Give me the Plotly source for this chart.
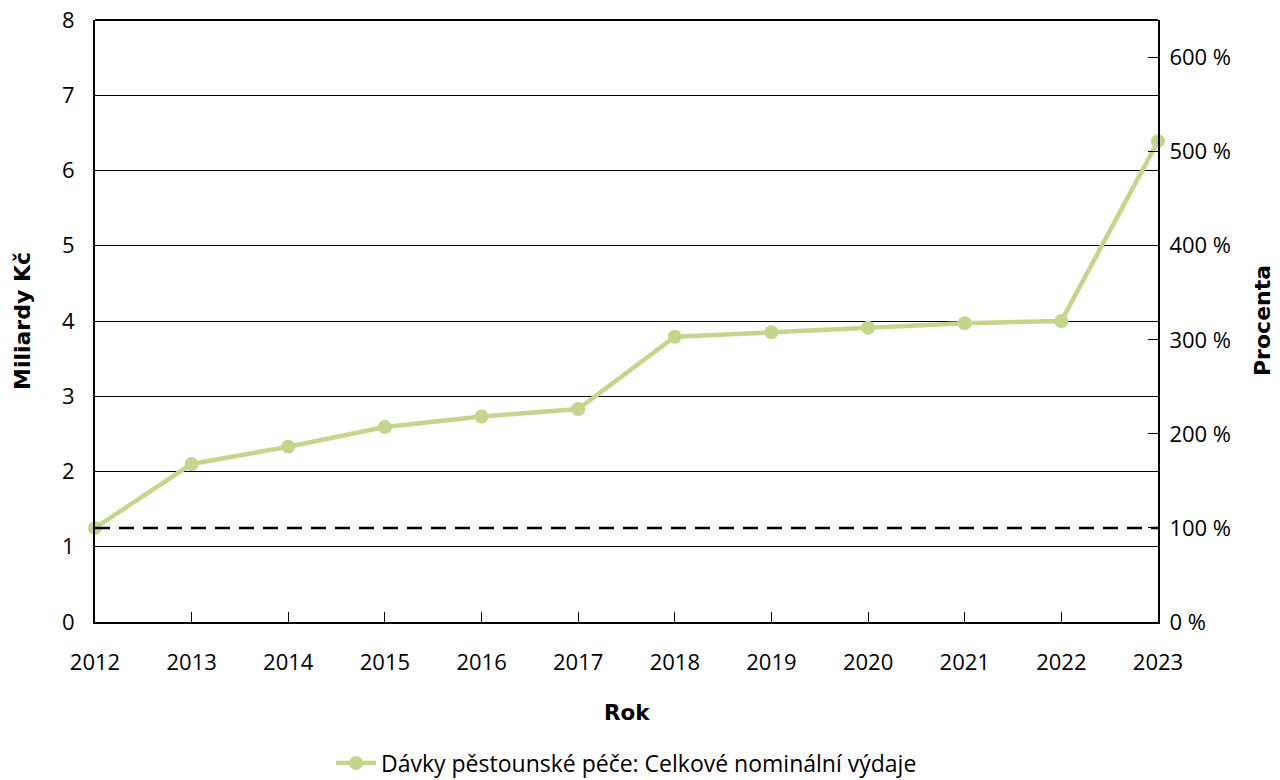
import plotly.graph_objects as go

years = [2012, 2013, 2014, 2015, 2016, 2017, 2018, 2019, 2020, 2021, 2022, 2023]
values = [1.25, 2.10, 2.33, 2.59, 2.73, 2.83, 3.79, 3.85, 3.91, 3.97, 4.00, 6.39]
series_name = "Dávky pěstounské péče: Celkové nominální výdaje"
left_ticks = [0, 1, 2, 3, 4, 5, 6, 7, 8]
right_ticks = [0, 100, 200, 300, 400, 500, 600]
right_labels = ["0 %", "100 %", "200 %", "300 %", "400 %", "500 %", "600 %"]
baseline_pct = 100

FONT = "Open Sans, Lato, sans-serif"
BOLD = "DejaVu Sans, Verdana, sans-serif"
FS = 22
GREEN = "rgb(196,214,140)"

# figure sits at the page's 8px body margin
W, H = 1272, 772
ML, MR, MT, MB = 87, 122, 12, 158
pw, ph = W - ML - MR, H - MT - MB

fig = go.Figure()

fig.add_trace(go.Scatter(
    x=[years[0], years[-1]], y=[baseline_pct, baseline_pct], yaxis="y2",
    mode="lines", line=dict(color="black", width=2.5, dash="15px,9px"),
    showlegend=False, hoverinfo="skip"))

fig.add_trace(go.Scatter(
    x=years, y=values, mode="lines+markers", name=series_name,
    line=dict(color=GREEN, width=4.5),
    marker=dict(color=GREEN, size=14),
    cliponaxis=False))

fig.update_layout(
    width=W, height=H,
    margin=dict(l=ML, r=MR, t=MT, b=MB, autoexpand=False),
    paper_bgcolor="white", plot_bgcolor="white",
    font=dict(family=FONT, size=FS, color="black"),
    showlegend=True,
    legend=dict(orientation="h", x=0.5, xanchor="center",
                y=(H - MB - 755) / ph, yanchor="middle",
                font=dict(size=23), itemwidth=40),
    xaxis=dict(range=[years[0], years[-1]], tickvals=years, ticks="inside", ticklen=10,
               tickcolor="black", tickwidth=1, ticklabelstandoff=20, automargin=False,
               ticklabeloverflow="allow",
               showgrid=False, zeroline=False, showline=True, linecolor="black", linewidth=2),
    yaxis=dict(range=[0, 8], tickvals=left_ticks, ticks="", showgrid=True, automargin=False,
               ticklabeloverflow="allow",
               gridcolor="black", gridwidth=1, zeroline=False, showline=True,
               linecolor="black", linewidth=2, ticklabelstandoff=14),
    yaxis2=dict(range=[0, 640], tickvals=right_ticks, ticktext=right_labels, automargin=False,
                ticklabeloverflow="allow",
                overlaying="y", side="right", ticks="inside", ticklen=10,
                tickcolor="black", tickwidth=1, showgrid=False, zeroline=False,
                showline=True, linecolor="black", linewidth=2, ticklabelstandoff=5),
    annotations=[
        dict(text="<b>Miliardy Kč</b>", x=(14 - ML) / pw, xref="paper", y=0.5, yref="paper",
             xanchor="center", yanchor="middle",
             showarrow=False, textangle=-90, font=dict(family=BOLD, size=22)),
        dict(text="<b>Procenta</b>", x=(1254 - ML) / pw, xref="paper", y=0.5, yref="paper",
             xanchor="center", yanchor="middle",
             showarrow=False, textangle=-90, font=dict(family=BOLD, size=22)),
        dict(text="<b>Rok</b>", x=0.5, xref="paper", y=(H - MB - 704) / ph, yref="paper",
             xanchor="center", yanchor="middle",
             showarrow=False, font=dict(family=BOLD, size=21.5)),
    ],
)

fig.add_shape(type="line", xref="paper", yref="paper", x0=0, x1=1, y0=1, y1=1,
              line=dict(color="black", width=2))

fig.write_html("out.html")
